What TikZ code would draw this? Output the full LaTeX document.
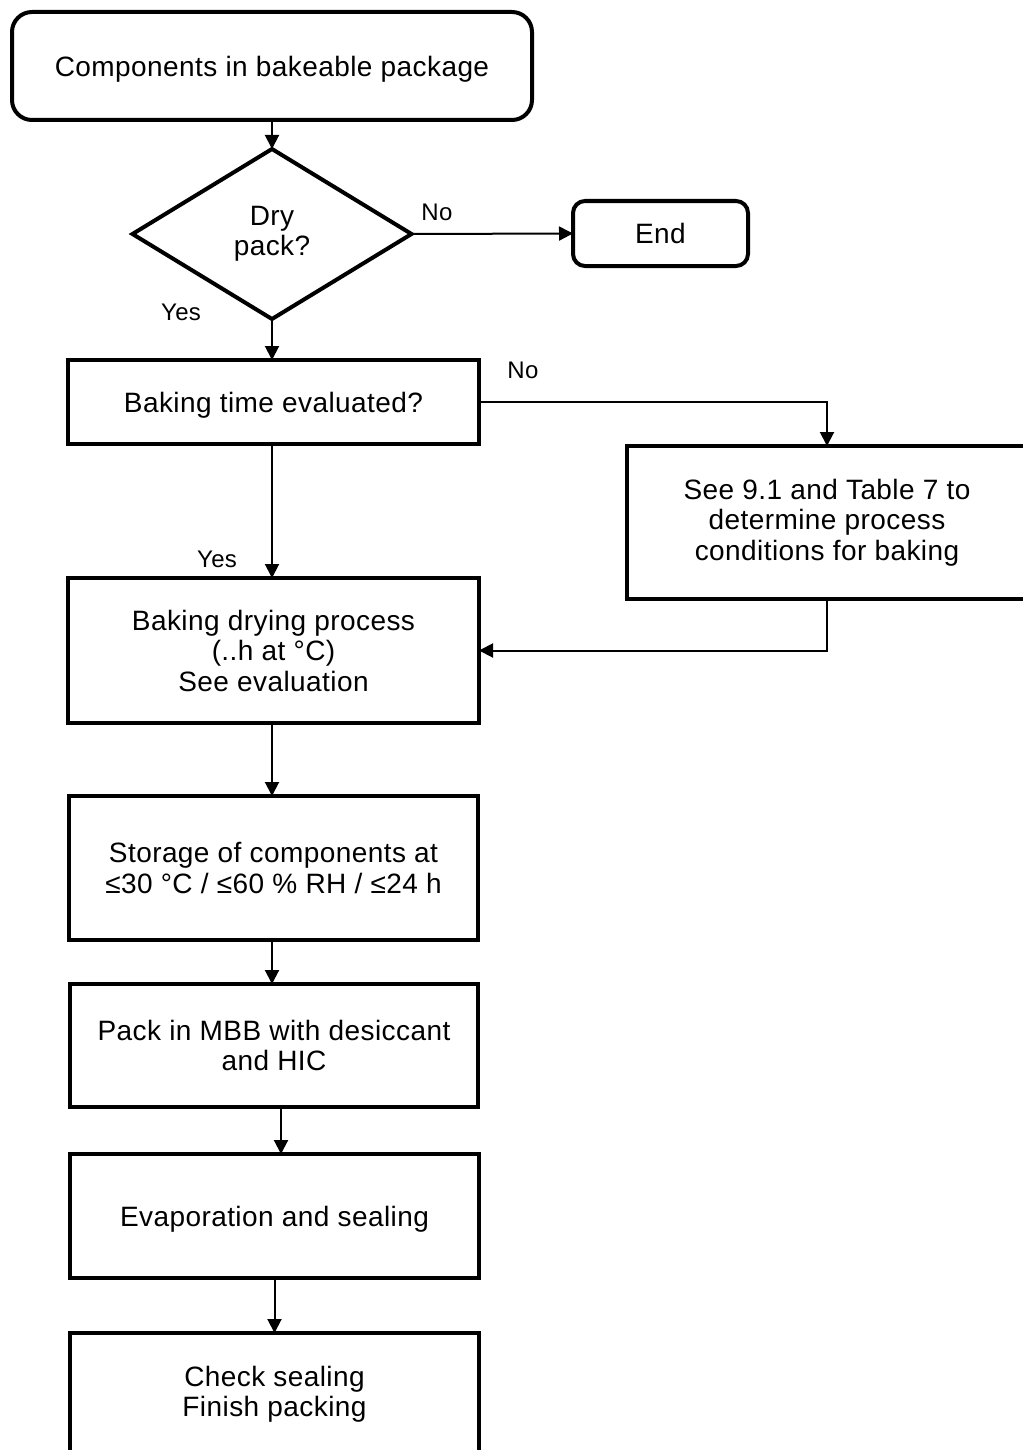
\documentclass[tikz,border=0pt]{standalone}
\usepackage{fontspec}
\setmainfont{Liberation Sans}[LetterSpace=1.5]
\usetikzlibrary{shapes.geometric,arrows.meta}

\begin{document}
\begin{tikzpicture}[x=1pt,y=-1pt,
	block/.style={rectangle, draw=black, line width=4pt, outer sep=0pt, inner sep=0pt, align=center, font=\fontsize{28}{30.5}\selectfont},
	single/.style={text height=21.5pt, text depth=0pt},
	terminal/.style={block, rounded corners=#1},
	decision/.style={diamond, draw=black, line width=4pt, outer sep=0pt, inner sep=0pt, align=center, font=\fontsize{28}{30.5}\selectfont},
	lbl/.style={font=\fontsize{24}{28}\selectfont, inner sep=0pt},
	line/.style={black, line width=2pt},
	>={Triangle[length=14pt,width=14pt]}]

	\useasboundingbox (0,0) rectangle (1022,1450);

	%Nodes
	\node[terminal=20pt, single, minimum width=520, minimum height=108]	(start)	at (272,66) {Components in bakeable package};
	\node[decision, minimum width=279, minimum height=170]	(dry)	at (272,234) {Dry\\pack?};
	\node[terminal=12pt, minimum width=175, minimum height=65]	(end)	at (660.5,233.5) {End};
	\node[block, single, minimum width=411, minimum height=84]	(evaluated)	at (273.5,402) {Baking time evaluated?};
	\node[block, minimum width=400, minimum height=153]	(conditions)	at (827,522.5) {See 9.1 and Table 7 to\\determine process\\conditions for baking};
	\node[block, minimum width=411, minimum height=145]	(baking)	at (273.5,650.5) {Baking drying process\\(..h at °C)\\See evaluation};
	\node[block, minimum width=409, minimum height=144]	(storage)	at (273.5,868) {Storage of components at\\≤30 °C / ≤60 \% RH / ≤24 h};
	\node[block, minimum width=408, minimum height=123]	(pack)	at (274,1045.5) {Pack in MBB with desiccant\\and HIC};
	\node[block, single, minimum width=409, minimum height=124]	(sealing)	at (274.5,1216) {Evaporation and sealing};
	\node[block, minimum width=409, minimum height=122]	(finish)	at (274.5,1394) {Check sealing\\Finish packing};

	%Labels
	\node[lbl]	(drynolbl)	at (437,212) {No};
	\node[lbl]	(dryyeslbl)	at (181,312) {Yes};
	\node[lbl]	(evalnolbl)	at (523,370) {No};
	\node[lbl]	(evalyeslbl)	at (217,559) {Yes};

	%Lines
	\draw[line, ->] (start.south) -- (dry.north);
	\draw[line, ->] (dry.east) -- (end.west);
	\draw[line, ->] (dry.south) -- (evaluated.north -| dry.south);
	\draw[line, ->] (evaluated.east) -| (conditions.north);
	\draw[line, ->] (evaluated.south -| dry.south) -- (baking.north -| dry.south);
	\draw[line, ->] (conditions.south) |- (baking.east);
	\draw[line, ->] (baking.south -| dry.south) -- (storage.north -| dry.south);
	\draw[line, ->] (storage.south -| dry.south) -- (pack.north -| dry.south);
	\draw[line, ->] ([xshift=7pt]pack.south) -- ([xshift=7pt]pack.south |- sealing.north);
	\draw[line, ->] (sealing.south) -- (finish.north -| sealing.south);
\end{tikzpicture}
\end{document}
